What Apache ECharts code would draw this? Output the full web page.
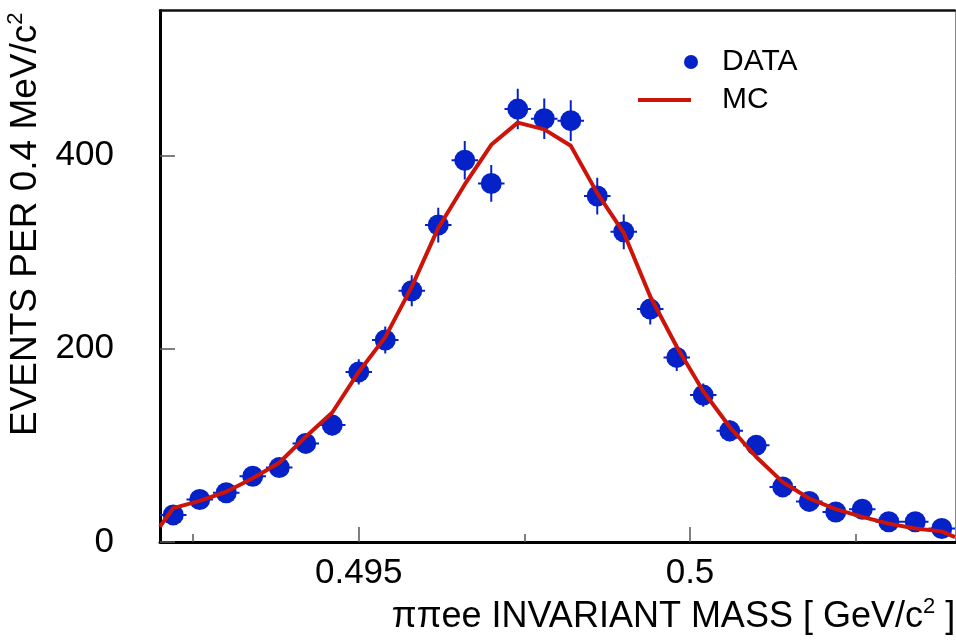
<!DOCTYPE html>
<html>
<head>
<meta charset="utf-8">
<script src="https://cdn.jsdelivr.net/npm/echarts@6/dist/echarts.min.js"></script>
<style>
  html, body { margin: 0; padding: 0; background: #fff; }
  #chart { width: 956px; height: 640px; }
</style>
</head>
<body>
<div id="chart"></div>
<script>
// bin centres (GeV/c^2), 0.4 MeV bins
const massCenters = [0.4922, 0.4926, 0.4930, 0.4934, 0.4938, 0.4942, 0.4946, 0.4950, 0.4954, 0.4958,
  0.4962, 0.4966, 0.4970, 0.4974, 0.4978, 0.4982, 0.4986, 0.4990, 0.4994, 0.4998,
  0.5002, 0.5006, 0.5010, 0.5014, 0.5018, 0.5022, 0.5026, 0.5030, 0.5034, 0.5038];
const dataCounts = [28, 44, 51, 68, 77, 102, 121, 176, 209, 260,
  328, 395, 371, 448, 438, 436, 358, 321, 241, 191,
  152, 115, 100, 57, 42, 31, 34, 21, 21, 14];
const dataErrors = [5, 7, 7, 8, 9, 10, 11, 13, 14, 16,
  18, 20, 19, 21, 21, 21, 19, 18, 16, 14,
  12, 11, 10, 8, 6, 6, 6, 5, 5, 4];
const binHalfWidth = 0.0002;

// MC curve, incl. the two range edges
const mcMass = [0.4920].concat(massCenters, [0.5040]);
const mcValues = [16, 35, 42.5, 52, 66, 82, 109, 134, 176, 212, 264,
  325, 370, 411, 434, 427, 410, 361, 320, 254, 202,
  156, 119, 88, 62, 45, 34, 26, 19, 14, 11, 5];

const xTickLabels = [0.495, 0.5];
const xMinorTicks = [0.4925, 0.4975, 0.5025];
const yTickLabels = [0, 200, 400];

const FONT = 'Liberation Sans';
const BLUE = '#0522c8';
const RED = '#cc1408';

const chart = echarts.init(document.getElementById('chart'), null, { renderer: 'canvas' });

const dataPoints = massCenters.map((m, i) => [m, dataCounts[i], dataErrors[i]]);
const mcPoints = mcMass.map((m, i) => [m, mcValues[i]]);

const option = {
  animation: false,
  backgroundColor: '#fff',
  textStyle: { fontFamily: FONT },
  grid: { left: 160, right: 1, top: 10.5, bottom: 98, outerBoundsMode: 'none', containLabel: false },
  legend: [
    {
      data: ['DATA'], orient: 'vertical', left: 679, top: 42,
      icon: 'circle', itemWidth: 14, itemHeight: 14,
      textStyle: { fontSize: 30, color: '#000', fontFamily: FONT, padding: [0, 0, 0, 19] }
    },
    {
      data: ['MC'], orient: 'vertical', left: 633, top: 80,
      icon: 'rect', itemWidth: 53, itemHeight: 4,
      textStyle: { fontSize: 30, color: '#000', fontFamily: FONT, padding: [0, 0, 0, 26] }
    }
  ],
  xAxis: [
    {
      type: 'value', min: 0.492, max: 0.504, position: 'bottom',
      splitLine: { show: false },
      axisLine: { lineStyle: { color: '#000', width: 3 } },
      axisTick: { inside: true, length: 15, customValues: xTickLabels, lineStyle: { color: '#555', width: 1.5 } },
      axisLabel: { customValues: xTickLabels, fontSize: 35, color: '#000', margin: 14, fontFamily: FONT,
        formatter: v => String(v) },
      name: '{t|ππee INVARIANT MASS [ GeV/c}{s|2}{t| ]}',
      nameLocation: 'middle', nameGap: 53,
      nameTextStyle: {
        padding: [0, 0, 0, 232],
        rich: {
          t: { fontSize: 36, color: '#000', fontFamily: FONT, lineHeight: 42 },
          s: { fontSize: 22, color: '#000', fontFamily: FONT, verticalAlign: 'top', lineHeight: 22 }
        }
      }
    },
    {
      type: 'value', min: 0.492, max: 0.504, position: 'bottom',
      splitLine: { show: false }, axisLine: { show: false }, axisLabel: { show: false },
      axisTick: { inside: true, length: 8, customValues: xMinorTicks, lineStyle: { color: '#555', width: 1.5 } }
    },
    {
      type: 'value', min: 0.492, max: 0.504, position: 'top',
      splitLine: { show: false }, axisTick: { show: false }, axisLabel: { show: false },
      axisLine: { lineStyle: { color: '#111', width: 2.5 } }
    }
  ],
  yAxis: [
    {
      type: 'value', min: 0, max: 550, position: 'left',
      splitLine: { show: false },
      axisLine: { lineStyle: { color: '#000', width: 3 } },
      axisTick: { inside: true, length: 15, customValues: yTickLabels, lineStyle: { color: '#555', width: 1.5 } },
      axisLabel: { customValues: yTickLabels, fontSize: 35, color: '#000', margin: 46, fontFamily: FONT },
      name: '{t|EVENTS PER 0.4 MeV/c}{s|2}',
      nameLocation: 'middle', nameRotate: 90, nameGap: 104,
      nameTextStyle: {
        padding: [0, 0, 0, 104],
        rich: {
          t: { fontSize: 37, color: '#000', fontFamily: FONT, lineHeight: 42 },
          s: { fontSize: 22, color: '#000', fontFamily: FONT, verticalAlign: 'top', lineHeight: 22 }
        }
      }
    },
    {
      type: 'value', min: 0, max: 550, position: 'right',
      splitLine: { show: false }, axisTick: { show: false }, axisLabel: { show: false },
      axisLine: { lineStyle: { color: '#888', width: 1 } }
    }
  ],
  series: [
    {
      name: 'DATA errors',
      type: 'custom',
      clip: true,
      z: 2,
      data: dataPoints,
      renderItem: (params, api) => {
        const x = api.value(0), y = api.value(1), e = api.value(2);
        const top = api.coord([x, y + e]);
        const bot = api.coord([x, y - e]);
        const l = api.coord([x - binHalfWidth, y]);
        const r = api.coord([x + binHalfWidth, y]);
        const st = { stroke: BLUE, lineWidth: 2 };
        return {
          type: 'group',
          children: [
            { type: 'line', shape: { x1: top[0], y1: top[1], x2: bot[0], y2: bot[1] }, style: st },
            { type: 'line', shape: { x1: l[0], y1: l[1], x2: r[0], y2: r[1] }, style: st }
          ]
        };
      }
    },
    {
      name: 'DATA',
      type: 'scatter',
      z: 3,
      symbol: 'circle',
      symbolSize: 21,
      itemStyle: { color: BLUE, opacity: 1 },
      data: dataPoints.map(p => [p[0], p[1]])
    },
    {
      name: 'MC',
      type: 'line',
      z: 4,
      symbol: 'none',
      smooth: false,
      clip: true,
      itemStyle: { color: RED },
      lineStyle: { color: RED, width: 4 },
      data: mcPoints
    }
  ]
};

chart.setOption(option);
</script>
</body>
</html>
